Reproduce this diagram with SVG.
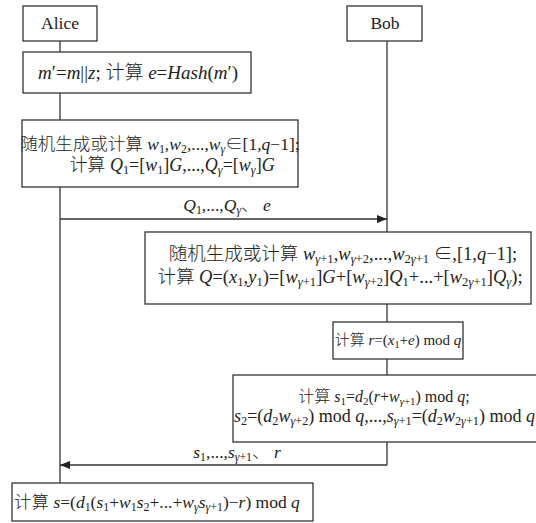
<svg xmlns="http://www.w3.org/2000/svg" width="536" height="523" viewBox="0 0 536 523">
<defs>
<marker id="ah" viewBox="0 0 10 8" refX="10" refY="4" markerWidth="10" markerHeight="8" markerUnits="userSpaceOnUse" orient="auto">
<path d="M0,0 L10,4 L0,8 Z" fill="#222"/>
</marker>
<style>
text{font-family:"Liberation Serif","Noto Sans CJK SC",serif;font-size:17.5px;fill:#222;font-weight:300}
.m{text-anchor:middle}
.i{font-style:italic}
.s{font-size:0.68em;baseline-shift:-0.25em}
.si{font-size:0.68em;baseline-shift:-0.25em;font-style:italic}
.f19{font-size:19px}
.f185{font-size:18.5px}
.f16{font-size:16px}
.f15{font-size:15px}
.f18{font-size:18px}
rect{fill:#fff;stroke:#333;stroke-width:1.3}
.ln{stroke:#333;stroke-width:1.3;fill:none}
</style>
</defs>
<g id="connectors">
<line class="ln" x1="60" y1="41" x2="60" y2="483"/>
<line class="ln" x1="387" y1="41" x2="387" y2="465"/>
<line class="ln" x1="60" y1="219" x2="387" y2="219" marker-end="url(#ah)"/>
<line class="ln" x1="387" y1="465" x2="60" y2="465" marker-end="url(#ah)"/>
<text class="m" x="227" y="211"><tspan class="i">Q</tspan><tspan class="s">1</tspan>,...,<tspan class="i">Q</tspan><tspan class="si">γ</tspan>、 <tspan class="i">e</tspan></text>
<text class="m" x="237" y="458"><tspan class="i">s</tspan><tspan class="s">1</tspan>,...,<tspan class="i">s</tspan><tspan class="si">γ</tspan><tspan class="s">+1</tspan>、 <tspan class="i">r</tspan></text>
</g>
<g id="alice">
<rect x="23" y="6" width="74" height="35"/>
<text class="m" x="60" y="29">Alice</text>
</g>
<g id="bob">
<rect x="347" y="6" width="75" height="35"/>
<text class="m" x="385" y="29">Bob</text>
</g>
<g id="hash">
<rect x="23" y="52" width="228" height="41"/>
<text class="m f19" x="138" y="79"><tspan class="i">m</tspan>′=<tspan class="i">m</tspan>||<tspan class="i">z</tspan>; 计算 <tspan class="i">e</tspan>=<tspan class="i">Hash</tspan>(<tspan class="i">m</tspan>′)</text>
</g>
<g id="alice-gen">
<rect x="22" y="120" width="276" height="67"/>
<text class="m" x="160" y="150">随机生成或计算 <tspan class="i">w</tspan><tspan class="s">1</tspan>,<tspan class="i">w</tspan><tspan class="s">2</tspan>,...,<tspan class="i">w</tspan><tspan class="si">γ</tspan>∈[1,<tspan class="i">q</tspan>−1];</text>
<text class="m f18" x="172" y="171">计算 <tspan class="i">Q</tspan><tspan class="s">1</tspan>=[<tspan class="i">w</tspan><tspan class="s">1</tspan>]<tspan class="i">G</tspan>,...,<tspan class="i">Q</tspan><tspan class="si">γ</tspan>=[<tspan class="i">w</tspan><tspan class="si">γ</tspan>]<tspan class="i">G</tspan></text>
</g>
<g id="bob-gen">
<rect x="145" y="232" width="386" height="72"/>
<text class="m f185" x="343" y="260">随机生成或计算 <tspan class="i">w</tspan><tspan class="si">γ</tspan><tspan class="s">+1</tspan>,<tspan class="i">w</tspan><tspan class="si">γ</tspan><tspan class="s">+2</tspan>,...,<tspan class="i">w</tspan><tspan class="s">2</tspan><tspan class="si">γ</tspan><tspan class="s">+1</tspan> ∈,[1,<tspan class="i">q</tspan>−1];</text>
<text class="m f185" x="340" y="283">计算 <tspan class="i">Q</tspan>=(<tspan class="i">x</tspan><tspan class="s">1</tspan>,<tspan class="i">y</tspan><tspan class="s">1</tspan>)=[<tspan class="i">w</tspan><tspan class="si">γ</tspan><tspan class="s">+1</tspan>]<tspan class="i">G</tspan>+[<tspan class="i">w</tspan><tspan class="si">γ</tspan><tspan class="s">+2</tspan>]<tspan class="i">Q</tspan><tspan class="s">1</tspan>+...+[<tspan class="i">w</tspan><tspan class="s">2</tspan><tspan class="si">γ</tspan><tspan class="s">+1</tspan>]<tspan class="i">Q</tspan><tspan class="si">γ</tspan>);</text>
</g>
<g id="bob-r">
<rect x="333" y="322" width="130" height="37"/>
<text class="m f15" x="398" y="345">计算 <tspan class="i">r</tspan>=(<tspan class="i">x</tspan><tspan class="s">1</tspan>+<tspan class="i">e</tspan>) mod <tspan class="i">q</tspan></text>
</g>
<g id="bob-s">
<rect x="233" y="375" width="310" height="67"/>
<text class="m f16" x="384" y="402">计算 <tspan class="i">s</tspan><tspan class="s">1</tspan>=<tspan class="i">d</tspan><tspan class="s">2</tspan>(<tspan class="i">r</tspan>+<tspan class="i">w</tspan><tspan class="si">γ</tspan><tspan class="s">+1</tspan>) mod <tspan class="i">q</tspan>;</text>
<text class="f18" x="234" y="422"><tspan class="i">s</tspan><tspan class="s">2</tspan>=(<tspan class="i">d</tspan><tspan class="s">2</tspan><tspan class="i">w</tspan><tspan class="si">γ</tspan><tspan class="s">+2</tspan>) mod <tspan class="i">q</tspan>,...,<tspan class="i">s</tspan><tspan class="si">γ</tspan><tspan class="s">+1</tspan>=(<tspan class="i">d</tspan><tspan class="s">2</tspan><tspan class="i">w</tspan><tspan class="s">2</tspan><tspan class="si">γ</tspan><tspan class="s">+1</tspan>) mod <tspan class="i">q</tspan></text>
</g>
<g id="alice-s">
<rect x="12" y="483" width="301" height="38"/>
<text x="14" y="508">计算 <tspan class="i">s</tspan>=(<tspan class="i">d</tspan><tspan class="s">1</tspan>(<tspan class="i">s</tspan><tspan class="s">1</tspan>+<tspan class="i">w</tspan><tspan class="s">1</tspan><tspan class="i">s</tspan><tspan class="s">2</tspan>+...+<tspan class="i">w</tspan><tspan class="si">γ</tspan><tspan class="i">s</tspan><tspan class="si">γ</tspan><tspan class="s">+1</tspan>)−<tspan class="i">r</tspan>) mod <tspan class="i">q</tspan></text>
</g>
</svg>
